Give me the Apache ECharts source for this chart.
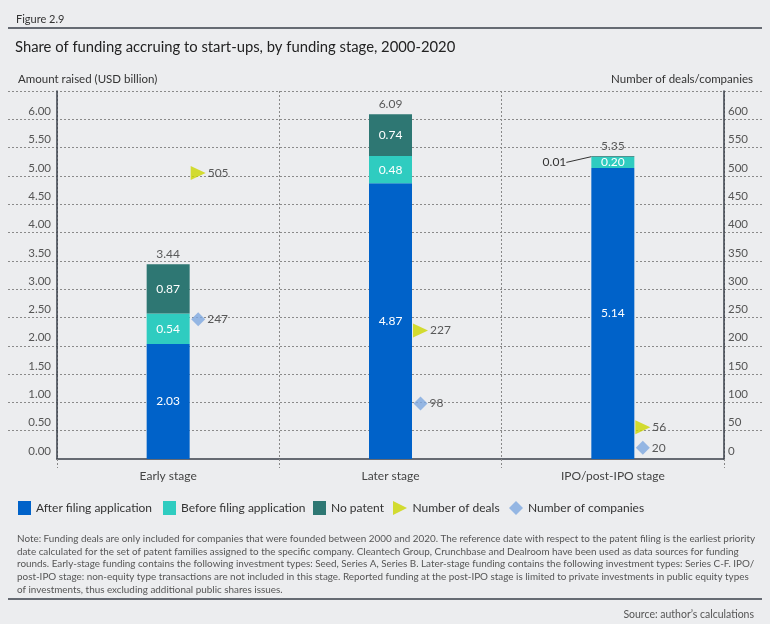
<!DOCTYPE html>
<html>
<head>
<meta charset="utf-8">
<script src="https://cdn.jsdelivr.net/npm/echarts@6/dist/echarts.min.js"></script>
<style>
html,body{margin:0;padding:0;background:#ECEDEF;}
#chart{width:770px;height:624px;}
</style>
</head>
<body>
<div id="chart"></div>
<script>
// ---- data ----
const categories = ['Early stage', 'Later stage', 'IPO/post-IPO stage'];
const afterFiling = [2.03, 4.87, 5.14];
const beforeFiling = [0.54, 0.48, 0.20];
const noPatent = [0.87, 0.74, 0.01];
const totals = [3.44, 6.09, 5.35];
const numDeals = [505, 227, 56];
const numCompanies = [247, 98, 20];
const noteLines = [
  'Note: Funding deals are only included for companies that were founded between 2000 and 2020. The reference date with respect to the patent filing is the earliest priority',
  'date calculated for the set of patent families assigned to the specific company. Cleantech Group, Crunchbase and Dealroom have been used as data sources for funding',
  'rounds. Early-stage funding contains the following investment types: Seed, Series A, Series B. Later-stage funding contains the following investment types: Series C-F. IPO/',
  'post-IPO stage: non-equity type transactions are not included in this stage. Reported funding at the post-IPO stage is limited to private investments in public equity types',
  'of investments, thus excluding additional public shares issues.'
];
const legendNames = ['After filing application', 'Before filing application', 'No patent', 'Number of deals', 'Number of companies'];

const FONT = 'Lato';
const C_AFTER = '#0062C9', C_BEFORE = '#2FCCC0', C_NOPAT = '#2E7773', C_DEALS = '#CCD600', C_COMP = '#7EA8E0';
const TRI = 'path://M0,0L14,7L0,14Z';
const legendIcons = ['rect', 'rect', 'rect', TRI, 'diamond'];
const legendLeft = [13, 158, 308, 388, 504];
const legendIconW = [13, 13, 13, 15, 14];

const chart = echarts.init(document.getElementById('chart'));
const option = {
  backgroundColor: '#ECEDEF',
  textStyle: { fontFamily: FONT },
  animation: false,
  title: [
    { text: 'Figure 2.9', left: 11, top: 9, textStyle: { fontSize: 11, fontWeight: 'normal', color: '#333', fontFamily: FONT } },
    { text: 'Share of funding accruing to start-ups, by funding stage, 2000-2020', left: 10, top: 35, textStyle: { fontSize: 14.8, fontWeight: 'normal', color: '#222', fontFamily: FONT } },
    { text: 'Amount raised (USD billion)', left: 13, top: 68, textStyle: { fontSize: 11.5, fontWeight: 'normal', color: '#333', fontFamily: FONT } },
    { text: 'Number of deals/companies', right: 12, top: 68, textStyle: { fontSize: 11.5, fontWeight: 'normal', color: '#333', fontFamily: FONT } },
    { text: noteLines.join('\n'), left: 12, top: 527, textStyle: { fontSize: 9.9, lineHeight: 12.9, fontWeight: 'normal', color: '#555', fontFamily: FONT } },
    { text: 'Source: author\u2019s calculations', right: 11, top: 604, textStyle: { fontSize: 10.5, fontWeight: 'normal', color: '#555', fontFamily: FONT } }
  ],
  graphic: [
    { type: 'line', shape: { x1: 8, y1: 28, x2: 762, y2: 28 }, style: { stroke: '#3A3F4A', lineWidth: 1.5 } },
    { type: 'line', shape: { x1: 8, y1: 599, x2: 762, y2: 599 }, style: { stroke: '#3A3F4A', lineWidth: 1.5 } }
  ],
  legend: legendNames.map((n, i) => ({
    left: legendLeft[i], top: 496, itemWidth: legendIconW[i], itemHeight: 14,
    textStyle: { fontSize: 12, color: '#333', fontFamily: FONT },
    data: [{ name: n, icon: legendIcons[i] }]
  })),
  grid: [
    { left: 57, right: 46, top: 91, bottom: 165 },
    { left: 8, right: 8, top: 91, bottom: 193.33 }
  ],
  xAxis: [
    {
      type: 'category', gridIndex: 0, data: categories,
      axisLine: { lineStyle: { color: '#3A3F4A', width: 1.5 } },
      axisTick: { show: true, length: 9, lineStyle: { color: '#888', type: [2, 2] } },
      axisLabel: { color: '#444', fontSize: 12, margin: 11, fontFamily: FONT },
      splitLine: { show: true, lineStyle: { color: '#888', type: [2, 2] } }
    },
    { type: 'value', gridIndex: 1, show: false, min: 0, max: 1 }
  ],
  yAxis: [
    {
      type: 'value', gridIndex: 0, min: 0, max: 6.5, interval: 0.5,
      axisLine: { show: true, lineStyle: { color: '#3A3F4A', width: 1.5 } },
      axisTick: { show: false },
      splitLine: { show: false },
      axisLabel: {
        color: '#555', fontSize: 11.5, margin: 6, verticalAlign: 'bottom', padding: [0, 0, 2, 0], fontFamily: FONT,
        formatter: v => (v >= 6.5 ? '' : v.toFixed(2))
      }
    },
    {
      type: 'value', gridIndex: 0, position: 'right', min: 0, max: 650, interval: 50,
      axisLine: { show: true, lineStyle: { color: '#3A3F4A', width: 1.5 } },
      axisTick: { show: false },
      splitLine: { show: false },
      axisLabel: {
        color: '#555', fontSize: 11.5, margin: 4, verticalAlign: 'bottom', padding: [0, 0, 2, 0], fontFamily: FONT,
        formatter: v => (v >= 650 ? '' : String(v))
      }
    },
    {
      type: 'value', gridIndex: 1, min: 0.5, max: 6.5, interval: 0.5,
      axisLine: { show: false }, axisTick: { show: false }, axisLabel: { show: false },
      splitLine: { show: true, lineStyle: { color: '#8A8A8A', type: [2, 2], width: 1 } }
    }
  ],
  series: [
    {
      name: 'After filing application', type: 'bar', stack: 'total', barWidth: 43,
      xAxisIndex: 0, yAxisIndex: 0,
      itemStyle: { color: C_AFTER },
      label: { show: true, position: 'inside', color: '#fff', fontSize: 12, fontFamily: FONT },
      data: afterFiling
    },
    {
      name: 'Before filing application', type: 'bar', stack: 'total', barWidth: 43,
      xAxisIndex: 0, yAxisIndex: 0,
      itemStyle: { color: C_BEFORE },
      label: { show: true, position: 'inside', color: '#fff', fontSize: 12, fontFamily: FONT, formatter: p => p.value.toFixed(2) },
      data: beforeFiling
    },
    {
      name: 'No patent', type: 'bar', stack: 'total', barWidth: 43,
      xAxisIndex: 0, yAxisIndex: 0,
      itemStyle: { color: C_NOPAT },
      label: { show: true, position: 'inside', color: '#fff', fontSize: 12, fontFamily: FONT, formatter: p => p.value.toFixed(2) },
      labelLine: { show: true, lineStyle: { color: '#333', width: 1 } },
      labelLayout: p => (p.dataIndex === 2 ? { dx: -20, dy: 6 } : null),
      data: noPatent.map((v, i) => (i === 2 ? { value: v, label: { position: 'left', distance: 5, color: '#333' } } : v))
    },
    {
      name: 'Total', type: 'scatter', xAxisIndex: 0, yAxisIndex: 0,
      symbolSize: 0, silent: true,
      label: { show: true, position: 'top', distance: 4, color: '#333', fontSize: 12, fontFamily: FONT, formatter: p => p.value.toFixed(2) },
      data: totals
    },
    {
      name: 'Number of deals', type: 'scatter', xAxisIndex: 0, yAxisIndex: 1,
      symbol: TRI, symbolSize: [15, 14], symbolOffset: [30, 0],
      itemStyle: { color: C_DEALS },
      label: { show: true, position: 'right', distance: 2, color: '#333', fontSize: 12, fontFamily: FONT },
      data: numDeals
    },
    {
      name: 'Number of companies', type: 'scatter', xAxisIndex: 0, yAxisIndex: 1,
      symbol: 'diamond', symbolSize: 14, symbolOffset: [30, 0],
      itemStyle: { color: C_COMP },
      label: { show: true, position: 'right', distance: 2, color: '#333', fontSize: 12, fontFamily: FONT },
      data: numCompanies
    }
  ]
};
chart.setOption(option);
</script>
</body>
</html>
